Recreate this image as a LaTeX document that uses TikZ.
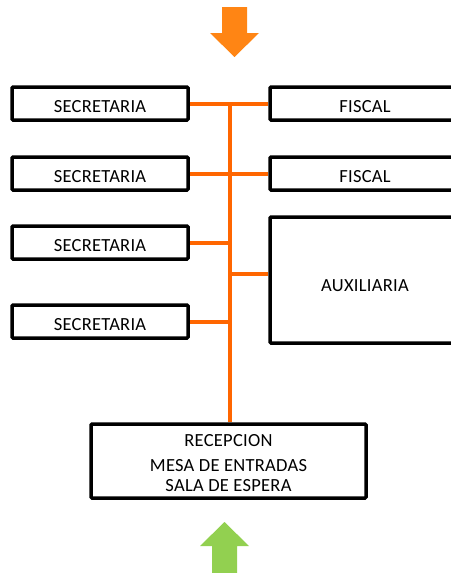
\documentclass[tikz,border=0pt]{standalone}
\usepackage{fontspec}
\setmainfont{Carlito}[LetterSpace=1.5]
\definecolor{linea}{RGB}{255,102,0}
\definecolor{flechanaranja}{RGB}{255,133,20}
\definecolor{flechaverde}{RGB}{146,208,80}
\newcommand{\bajar}[2]{\raisebox{-#1}[\height][\depth]{#2}}
\begin{document}
\begin{tikzpicture}[x=1pt,y=-1pt,
  caja/.style={rectangle,draw,line width=3.5pt,rounded corners=1pt,inner sep=0pt,font=\fontsize{18.5}{21}\selectfont,align=center},
  rama/.style={draw=linea,line width=4pt}]
\useasboundingbox (0,0) rectangle (450,573);
\node[caja,minimum width=176pt,minimum height=33pt] (sec1) at (100,103.5) {\bajar{3pt}{SECRETARIA}};
\node[caja,minimum width=176pt,minimum height=33pt] (sec2) at (100,173.5) {\bajar{3pt}{SECRETARIA}};
\node[caja,minimum width=176pt,minimum height=33pt] (sec3) at (100,242.5) {\bajar{3pt}{SECRETARIA}};
\node[caja,minimum width=176pt,minimum height=33pt] (sec4) at (100,321.5) {\bajar{3pt}{SECRETARIA}};
\node[caja,minimum width=190pt,minimum height=33pt] (fis1) at (365,103.5) {\bajar{3pt}{FISCAL}};
\node[caja,minimum width=190pt,minimum height=33pt] (fis2) at (365,173.5) {\bajar{3pt}{FISCAL}};
\node[caja,minimum width=190pt,minimum height=126pt] (aux) at (365,280) {\bajar{6pt}{AUXILIARIA}};
\node[caja,minimum width=275pt,minimum height=74pt] (recep) at (228.5,461)
  {\bajar{4pt}{\begin{tabular}{@{}c@{}}RECEPCION\\[4pt] MESA DE ENTRADAS\\[-1pt] SALA DE ESPERA\end{tabular}}};
\coordinate (tronco) at (230,106);
\coordinate (raux) at (230,274);
\draw[rama] (sec1.east) -- (fis1.west);
\draw[rama] (sec2.east) -- (fis2.west);
\draw[rama] (tronco) -- (tronco |- recep.north);
\draw[rama] (sec3.east) -- (sec3.east -| tronco);
\draw[rama] (sec4.east) -- (sec4.east -| tronco);
\draw[rama] (raux) -- (raux -| aux.west);
% flechas
\fill[flechanaranja] (222,7) -- (247,7) -- (247,33) -- (259,33) -- (234.5,57) -- (210,33) -- (222,33) -- cycle;
\fill[flechaverde] (212,575) -- (237,575) -- (237,546) -- (249,546) -- (224.5,522) -- (200,546) -- (212,546) -- cycle;
\end{tikzpicture}
\end{document}
